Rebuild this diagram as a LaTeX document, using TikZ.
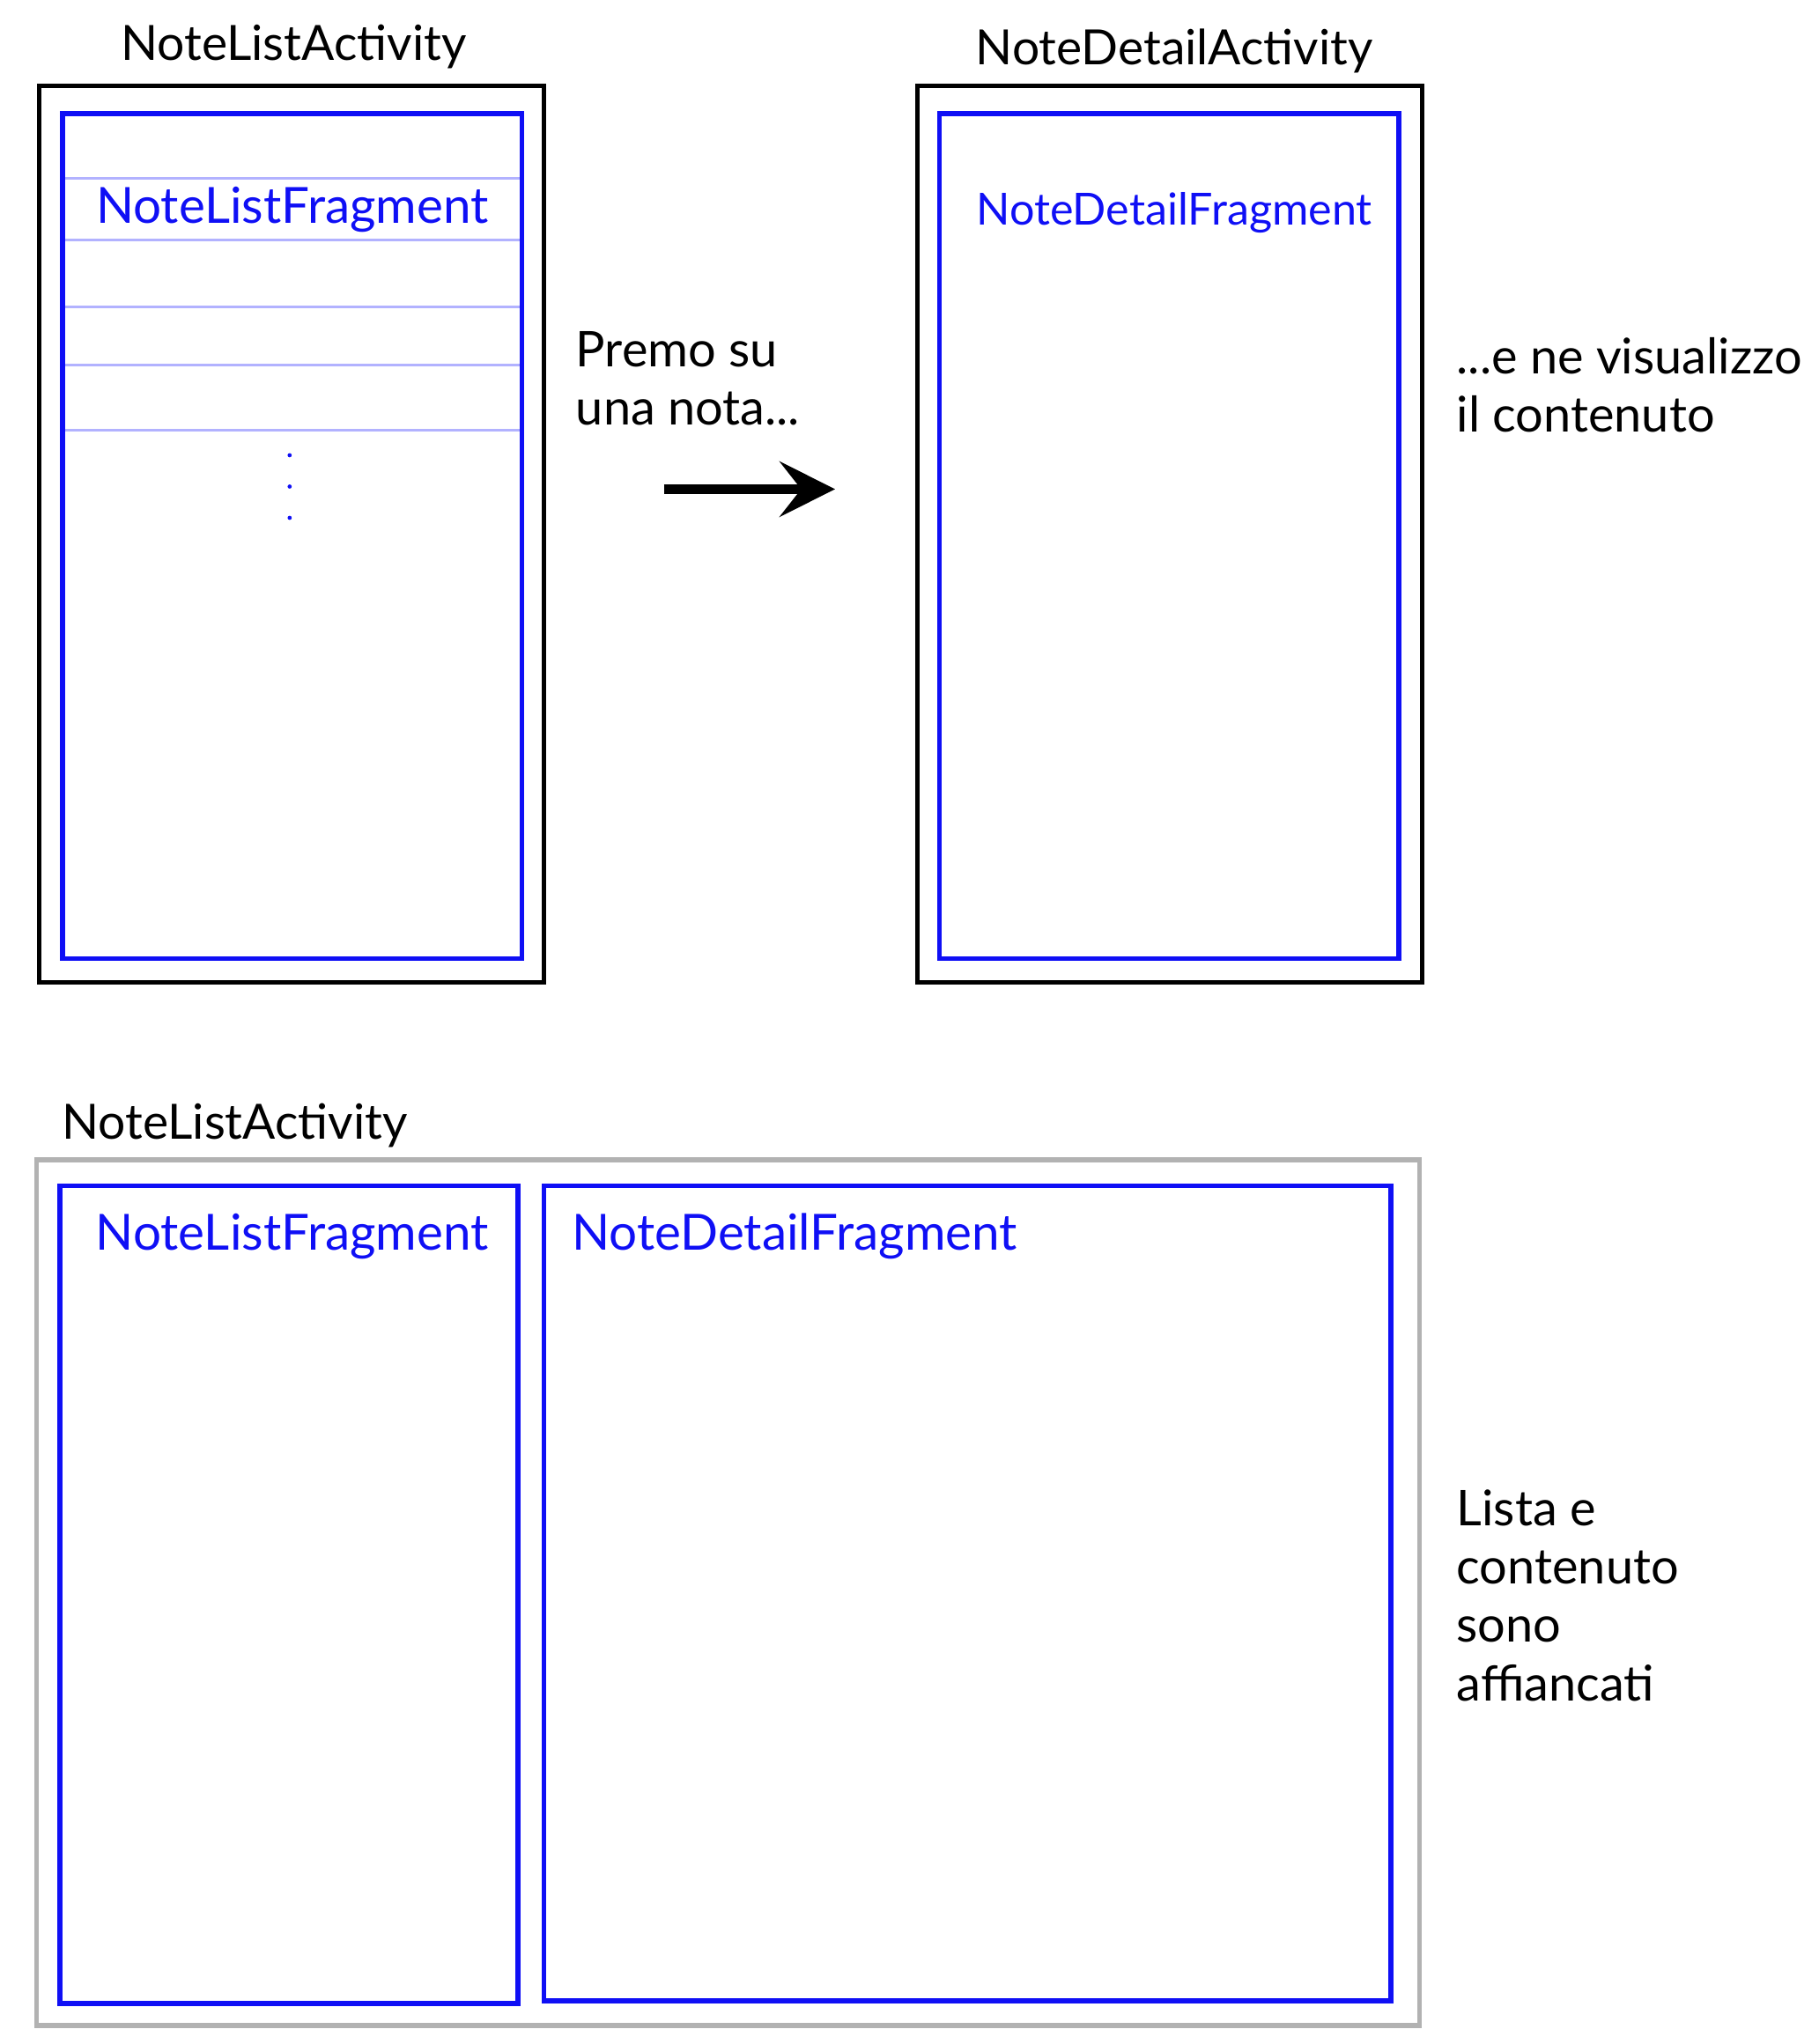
\documentclass[tikz,border=0pt]{standalone}
\usepackage{fontspec}
\setmainfont{Lato}
\usetikzlibrary{arrows.meta,positioning}
\definecolor{fragblue}{RGB}{15,15,245}
\definecolor{rowblue}{RGB}{178,178,255}
\definecolor{framegray}{RGB}{178,178,178}
\tikzset{
	activity/.style={draw=black, line width=1.45pt},
	wideactivity/.style={draw=framegray, line width=1.6pt},
	fragment/.style={draw=fragblue, line width=1.6pt},
	listrow/.style={draw=rowblue, line width=0.85pt},
	title/.style={inner sep=0pt, font=\fontsize{15.8}{18}\selectfont},
	fraglabel/.style={inner sep=0pt, text=fragblue, font=\fontsize{16.2}{18}\selectfont},
	smallfraglabel/.style={inner sep=0pt, text=fragblue, font=\fontsize{14.4}{18}\selectfont},
	caption/.style={inner sep=0pt, align=left, font=\fontsize{16}{19}\selectfont},
}
\begin{document}
\begin{tikzpicture}[x=0.01491cm, y=-0.01491cm]
		\useasboundingbox (0,0) rectangle (1394,1567);
	
		% telefono: lista
		\node[title] (listtitle) at (225,36) {NoteListActivity};
		\draw[activity] (30,66) rectangle (417,753);
		\foreach \y in {137,184,235,280,330}
			\draw[listrow] (49,\y) -- (399,\y);
		\draw[fragment] (48,87) rectangle (400,735);
		\node[fraglabel] (listfrag) at (224,161) {NoteListFragment};
		\foreach \y in {349,373,397}
			\fill[fragblue] (222,\y) circle (1.6);
	
		\node[caption, anchor=west] (tapnote) at (441,290) {Premo su\\una nota...};
		\coordinate (tapstart) at (509,375);
		\coordinate (tapend) at (640,375);
		\draw[line width=2.9pt, -{Stealth[length=18pt, width=18pt, inset=7pt]}] (tapstart) -- (tapend);
	
		% telefono: dettaglio
		\node[title] (detailtitle) at (900,39) {NoteDetailActivity};
		\draw[activity] (703,66) rectangle (1090,753);
		\draw[fragment] (720,87) rectangle (1072,735);
		\node[smallfraglabel] (detailfrag) at (900,163) {NoteDetailFragment};
		\node[caption, anchor=west] (shownote) at (1116,295) {...e ne visualizzo\\il contenuto};
	
		% tablet
		\node[title, anchor=west] (tablettitle) at (47,863) {NoteListActivity};
		\draw[wideactivity] (28,889) rectangle (1088,1553);
		\draw[fragment] (46,909) rectangle (397,1536);
		\draw[fragment] (417,909) rectangle (1066,1534);
		\node[fraglabel, anchor=west] (tabletlist) at (73,948) {NoteListFragment};
		\node[fraglabel, anchor=west] (tabletdetail) at (438,948) {NoteDetailFragment};
		\node[caption, anchor=west] (sidebyside) at (1116,1223) {Lista e\\contenuto\\sono\\affiancati};
	\end{tikzpicture}
\end{document}
